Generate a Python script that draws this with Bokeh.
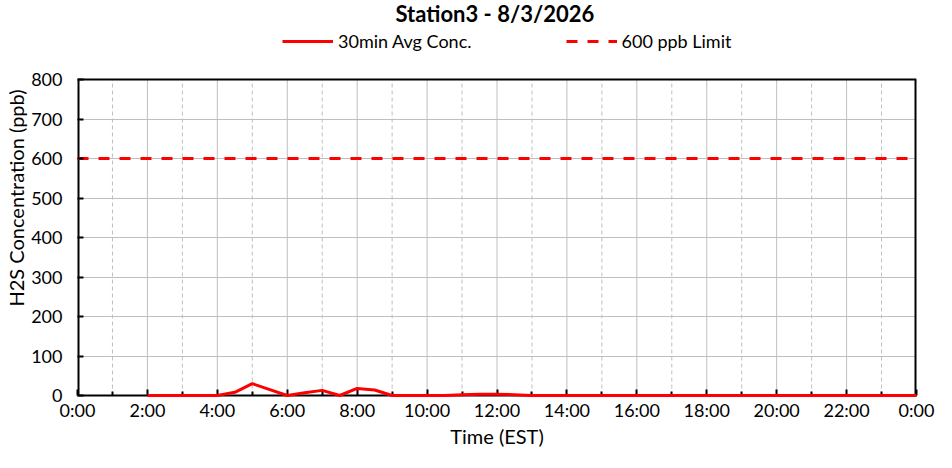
from bokeh.plotting import figure
from bokeh.models import (Range1d, FixedTicker, Legend, LegendItem, Label,
                          ColumnDataSource)
from bokeh.embed import file_html
from bokeh.resources import INLINE

TITLE = "Station3  - 8/3/2026"
X_LABEL = "Time (EST)"
Y_LABEL = "H2S Concentration (ppb)"
SERIES_NAME = "30min Avg Conc."
LIMIT_NAME = "600 ppb Limit"
LIMIT_PPB = 600

x_tick_hours = [0, 2, 4, 6, 8, 10, 12, 14, 16, 18, 20, 22, 24]
x_tick_labels = ["0:00", "2:00", "4:00", "6:00", "8:00", "10:00", "12:00",
                 "14:00", "16:00", "18:00", "20:00", "22:00", "0:00"]
x_minor_hours = [1, 3, 5, 7, 9, 11, 13, 15, 17, 19, 21, 23]
y_ticks = [0, 100, 200, 300, 400, 500, 600, 700, 800]

times = ["2:00", "2:30", "3:00", "3:30", "4:00", "4:30", "5:00", "5:30",
         "6:00", "6:30", "7:00", "7:30", "8:00", "8:30", "9:00", "9:30",
         "10:00", "10:30", "11:00", "11:30", "12:00", "12:30", "13:00",
         "13:30", "14:00", "14:30", "15:00", "15:30", "16:00", "16:30",
         "17:00", "17:30", "18:00", "18:30", "19:00", "19:30", "20:00",
         "20:30", "21:00", "21:30", "22:00", "22:30", "23:00", "23:30",
         "24:00"]
conc_ppb = [0, 0, 0, 0, 0, 8, 30, 15,
            0, 7, 13, 0, 18, 14, 0, 0,
            0, 0, 2, 3, 3, 2, 0,
            0, 0, 0, 0, 0, 0, 0,
            0, 0, 0, 0, 0, 0, 0,
            0, 0, 0, 0, 0, 0, 0,
            0]

hours = [int(t.split(":")[0]) + int(t.split(":")[1]) / 60.0 for t in times]

FONT = "Lato"
GRID = "#BFBFBF"
RED = "#FF0000"

# layout (pixels)
W, H = 936, 452
BORDER_L, BORDER_R, BORDER_B = 77, 20, 57
PLOT_TOP_PX = 79          # where the plot box starts inside the frame
FRAME_H = H - BORDER_B
Y_END = y_ticks[-1] * FRAME_H / (FRAME_H - PLOT_TOP_PX)
# y axis bounds chosen so its label is centred like the reference
Y_LABEL_CENTER_PX = 202.5
Y_LABEL_CENTER = y_ticks[-1] * (FRAME_H - Y_LABEL_CENTER_PX) / (FRAME_H - PLOT_TOP_PX)

p = figure(width=W, height=H, output_backend="svg", toolbar_location=None,
           x_range=Range1d(x_tick_hours[0], x_tick_hours[-1]),
           y_range=Range1d(y_ticks[0], Y_END),
           min_border_left=BORDER_L, min_border_right=BORDER_R,
           min_border_top=0, min_border_bottom=BORDER_B,
           background_fill_color="white", border_fill_color="white",
           outline_line_color=None)
p.title.text = ""

xa = p.xaxis[0]
xa.ticker = FixedTicker(ticks=x_tick_hours, minor_ticks=x_minor_hours)
xa.major_label_overrides = dict(zip(x_tick_hours, x_tick_labels))
ya = p.yaxis[0]
ya.ticker = FixedTicker(ticks=y_ticks)
ya.bounds = (y_ticks[0], 2 * Y_LABEL_CENTER - y_ticks[0])
for ax in (xa, ya):
    ax.major_label_text_font = FONT
    ax.major_label_text_font_size = "18px"
    ax.major_label_text_color = "black"
    ax.axis_line_color = "black"
    ax.axis_line_width = 2
    ax.major_tick_line_color = "black"
    ax.major_tick_line_width = 2
    ax.minor_tick_line_color = "black"
    ax.minor_tick_line_width = 2
    ax.major_tick_in = 6
    ax.major_tick_out = 0
    ax.minor_tick_out = 0
    ax.axis_label_text_font = FONT
    ax.axis_label_text_font_style = "normal"
    ax.axis_label_text_color = "black"
    ax.axis_label_standoff = 0
xa.minor_tick_in = 4
xa.major_label_standoff = 3
xa.axis_label = X_LABEL
xa.axis_label_text_font_size = "20px"
ya.axis_line_color = None
ya.minor_tick_in = 0
ya.minor_tick_line_color = None
ya.major_label_standoff = 15
ya.axis_label = Y_LABEL
ya.axis_label_text_font_size = "20px"

p.xgrid.visible = False
p.ygrid.grid_line_color = GRID
p.ygrid.grid_line_width = 1

# vertical grid lines limited to the plot box
maj = x_tick_hours[1:-1]
p.segment(x0=maj, x1=maj, y0=[y_ticks[0]] * len(maj), y1=[y_ticks[-1]] * len(maj),
          line_color=GRID, line_width=1)
p.segment(x0=x_minor_hours, x1=x_minor_hours,
          y0=[y_ticks[0]] * len(x_minor_hours), y1=[y_ticks[-1]] * len(x_minor_hours),
          line_color=GRID, line_width=1, line_dash="4 3")

# plot box border
x_edges = [x_tick_hours[0], x_tick_hours[-1]]
p.segment(x0=x_edges, x1=x_edges, y0=[y_ticks[0]] * 2, y1=[y_ticks[-1]] * 2,
          line_color="black", line_width=4)
p.line(x=x_edges, y=[y_ticks[-1]] * 2, line_color="black", line_width=2)

src = ColumnDataSource(dict(hour=hours, conc=conc_ppb))
r_limit = p.line(x=x_edges, y=[LIMIT_PPB, LIMIT_PPB],
                 line_color=RED, line_width=3, line_dash="11 10")
r_conc = p.line("hour", "conc", source=src, line_color=RED, line_width=3)
r_conc.level = "overlay"

legend = Legend(items=[LegendItem(label=SERIES_NAME, renderers=[r_conc]),
                       LegendItem(label=LIMIT_NAME, renderers=[r_limit])],
                orientation="horizontal", location=(205, FRAME_H - 52),
                glyph_width=51, glyph_height=20, label_standoff=5, spacing=94,
                padding=0, margin=0, border_line_alpha=0,
                background_fill_alpha=0, label_text_font=FONT,
                label_text_color="black", label_text_font_size="18px")
p.add_layout(legend)

p.add_layout(Label(x=318, y=FRAME_H + 1, x_units="screen", y_units="screen",
                   text=TITLE, text_font=FONT, text_font_style="bold",
                   text_font_size="22px", text_align="left",
                   text_baseline="top", text_color="black"))

open("out.html", "w").write(file_html(p, INLINE))
